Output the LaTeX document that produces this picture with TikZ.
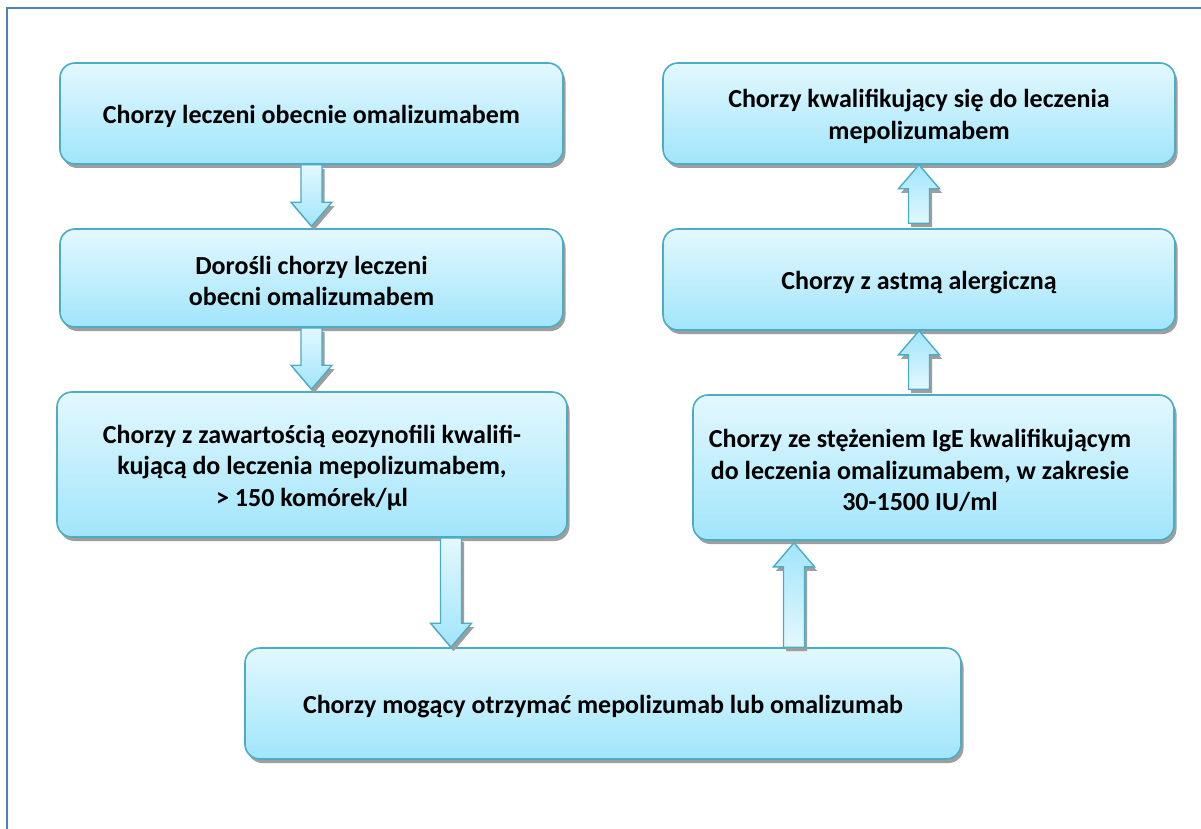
\documentclass[tikz,border=0pt]{standalone}
\usepackage{fontspec}
\setmainfont{Carlito}
\usetikzlibrary{calc,shadows}
\definecolor{bordc}{HTML}{4BACC6}
\definecolor{topc}{HTML}{E3F8FE}
\definecolor{botc}{HTML}{A1E5FB}
\definecolor{framec}{HTML}{4F81BD}
\tikzset{
  box/.style={draw=bordc, line width=1.6pt, rounded corners=15pt,
    top color=topc, bottom color=botc, inner sep=0pt,
    drop shadow={shadow xshift=2.5pt, shadow yshift=-4pt, opacity=1, fill=black!38}},
  boxtext/.style={font=\bfseries\fontsize{26}{31.5}\selectfont, align=center, inner sep=0pt},
  barrow/.style={draw=bordc, line width=1.4pt, line join=miter,
    drop shadow={shadow xshift=2.5pt, shadow yshift=-4pt, opacity=1, fill=black!38}},
  downshade/.style={top color=topc, bottom color=botc},
  upshade/.style={top color=botc, bottom color=topc}
}
% #1 name, #2 centre, #3 width, #4 height, #5 text x-offset, #6 text
\newcommand{\flowbox}[6]{%
  \node[box, minimum width=#3, minimum height=#4] (#1) at (#2) {};
  \node[boxtext] (#1t) at ([xshift=#5, yshift=-3pt]#1.center) {#6};
}
\newcommand{\blockarrow}[3]{%
  \coordinate (ba-t) at (#1);
  \coordinate (ba-p) at (#2);
  \coordinate (ba-h) at ($(ba-p)!24pt!(ba-t)$);
  \path[barrow,#3] ($(ba-t)!10.5pt!90:(ba-p)$) -- ($(ba-h)!10.5pt!-90:(ba-t)$)
    -- ($(ba-h)!20.5pt!-90:(ba-t)$) -- (ba-p) -- ($(ba-h)!20.5pt!90:(ba-t)$)
    -- ($(ba-h)!10.5pt!90:(ba-t)$) -- ($(ba-t)!10.5pt!-90:(ba-p)$) -- cycle;
}
\begin{document}
\begin{tikzpicture}[x=1pt,y=-1pt]
\useasboundingbox (0,0) rectangle (1201,829);
\fill[white] (0,0) rectangle (1201,829);
\draw[framec, line width=1.8pt] (7,829) -- (7,8) -- (1201,8);

\flowbox{b1}{311.5,113.5}{503pt}{101pt}{0pt}
  {Chorzy leczeni obecnie omalizumabem}
\flowbox{b2}{311.5,278}{503pt}{98pt}{0pt}
  {Dorośli chorzy leczeni\\obecni omalizumabem}
\flowbox{b3}{312,464.5}{510pt}{145pt}{0pt}
  {Chorzy z zawartością eozynofili kwalifi-\\kującą do leczenia mepolizumabem,\\> 150 komórek/µl}
\flowbox{b4}{603,703.5}{716pt}{111pt}{0pt}
  {Chorzy mogący otrzymać mepolizumab lub omalizumab}
\flowbox{b5}{933.5,467.5}{481pt}{145pt}{-13.5pt}
  {Chorzy ze stężeniem IgE kwalifikującym\\do leczenia omalizumabem, w zakresie\\30-1500 IU/ml}
\flowbox{b6}{919,279.5}{512pt}{101pt}{0pt}
  {Chorzy z astmą alergiczną}
\flowbox{b7}{919,113.5}{512pt}{101pt}{0pt}
  {Chorzy kwalifikujący się do leczenia\\mepolizumabem}

\coordinate (xa3) at (451,0);
\coordinate (xa4) at (794,0);
\coordinate (xr) at (919,0);

\blockarrow{b1.south}{$(b1.south |- b2.north)+(0,-2)$}{downshade}
\blockarrow{b2.south}{$(b2.south |- b3.north)+(0,-2)$}{downshade}
\blockarrow{xa3 |- b3.south}{xa3 |- b4.north}{downshade}
\blockarrow{xa4 |- b4.north}{$(xa4 |- b5.south)+(0,2)$}{upshade}
\blockarrow{$(xr |- b5.north)+(0,-5)$}{xr |- b6.south}{upshade}
\blockarrow{$(xr |- b6.north)+(0,-5)$}{xr |- b7.south}{upshade}
\end{tikzpicture}
\end{document}
